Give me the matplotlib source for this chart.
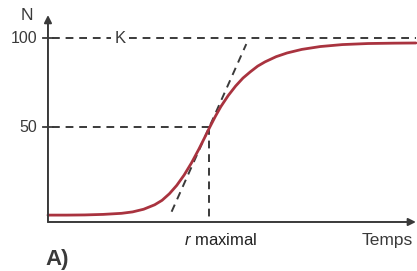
import matplotlib.pyplot as plt

# ================================================================================
# Logistic growth: N vs time
time=[0.0,0.5,1.0,1.5,2.0,2.3,2.6,2.9,3.1,3.3,3.5,3.7,3.9,4.1,4.25,4.4,4.55,4.7,4.9,5.1,5.3,5.5,5.7,5.9,6.2,6.5,6.9,7.4,8.0,8.7,9.4,10.0]
pop=[0.5,0.5,0.6,0.9,1.5,2.3,3.8,6.3,8.8,12.5,17.2,23,29.8,37.5,43.7,50,56,61.5,67.7,73,77.5,81,84.2,86.6,89.5,91.6,93.6,95.2,96.3,96.9,97.1,97.2]

K=100
half=50
t_inflection=4.375
tangent_t=[3.36,5.39]
tangent_N=[2.4,96.6]

tick_values=[100,50]
tick_labels=["100","50"]

# ================================================================================
plt.rcParams['font.family']=['Liberation Sans','DejaVu Sans']
plt.rcParams['mathtext.fontset']='custom'
plt.rcParams['mathtext.rm']='Liberation Sans'
plt.rcParams['mathtext.it']='Liberation Sans:italic'

ink="#3a3a3a"
red="#a9333f"

fig=plt.figure(figsize=(4.17,2.71),dpi=100)
ax=fig.add_axes([0,0,1,1])
ax.set_xlim(-1.304,10.03)
ax.set_ylim(-30.9,121.35)
ax.axis("off")

x_axis_y=-3.37

# axes with arrows
ax.annotate("",xy=(0,112.9),xytext=(0,x_axis_y),
            arrowprops=dict(arrowstyle="-|>",mutation_scale=11,lw=1.4,color=ink,shrinkA=0,shrinkB=0))
ax.annotate("",xy=(10.0,x_axis_y),xytext=(0,x_axis_y),
            arrowprops=dict(arrowstyle="-|>",mutation_scale=11,lw=1.4,color=ink,shrinkA=0,shrinkB=0))

# ticks + labels
for v,lab in zip(tick_values,tick_labels):
  ax.plot([-0.136,0.136],[v,v],color=ink,lw=1.3)
  ax.text(-0.30,v,lab,ha="right",va="center",fontsize=11.5,color=ink)

# dashed guides
dash=dict(color=ink,lw=1.4,ls=(0,(4,3)))
ax.plot([0.11,1.7],[K,K],**dash)
ax.plot([2.2,10.0],[K,K],**dash)
ax.text(1.957,K,"K",ha="center",va="center",fontsize=12,color=ink)
ax.plot([0.11,t_inflection],[half,half],**dash)
ax.plot([t_inflection,t_inflection],[half,x_axis_y],**dash)
ax.plot(tangent_t,tangent_N,**dash)

# curve
ax.plot(time,pop,color=red,lw=2.0,solid_capstyle="round",solid_joinstyle="round")

# texts
ax.text(-0.584,112.9,"N",ha="center",va="center",fontsize=12.5,color=ink)
ax.text(4.70,-13.6,"$r$ maximal",ha="center",va="center",fontsize=12,color="#222222")
ax.text(9.21,-13.8,"Temps",ha="center",va="center",fontsize=12.5,color=ink)
ax.text(0.245,-24.7,"A)",ha="center",va="center",fontsize=16,fontweight="bold",color=ink)

plt.savefig("out.png",dpi=100)
